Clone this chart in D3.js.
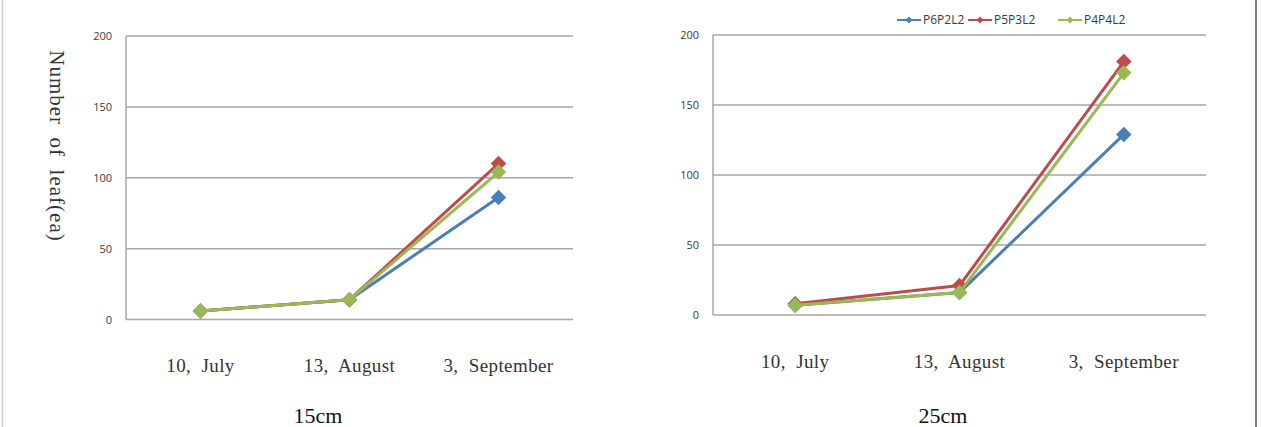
<!DOCTYPE html>
<html>
<head>
<meta charset="utf-8">
<script src="https://cdn.jsdelivr.net/npm/d3@7"></script>
<style>
  html, body { margin: 0; padding: 0; background: #fff; }
  svg { display: block; }
  .tick-label { font-family: "Open Sans", "DejaVu Sans", sans-serif; font-size: 11px; fill: #3a3a3a; }
  .cat-label { font-family: "Liberation Serif", "DejaVu Serif", serif; font-size: 19px; fill: #333; letter-spacing: 0.4px; }
  .sub-title { font-family: "Liberation Serif", "DejaVu Serif", serif; font-size: 22px; fill: #111; }
  .axis-title { font-family: "Liberation Serif", "DejaVu Serif", serif; font-size: 21px; fill: #333; letter-spacing: 1px; }
  .legend-text { font-family: "Open Sans", "DejaVu Sans", sans-serif; font-size: 12px; fill: #3a3a3a; }
</style>
</head>
<body>
<div id="chart"></div>
<script>
// Data
const categories = ["10,  July", "13,  August", "3,  September"];
const seriesNames = ["P6P2L2", "P5P3L2", "P4P4L2"];
const seriesColors = ["#4a7ebb", "#be4b48", "#98b954"];
const yTicks = [0, 50, 100, 150, 200];

// 15cm planting
const p6p2l2_15 = [6, 14, 86];
const p5p3l2_15 = [6, 14, 110];
const p4p4l2_15 = [6, 14, 104];

// 25cm planting
const p6p2l2_25 = [7, 16, 129];
const p5p3l2_25 = [8, 21, 181];
const p4p4l2_25 = [7, 16, 173];

const W = 1261, H = 427;

const svg = d3.select("#chart").append("svg")
  .attr("width", W)
  .attr("height", H);

// outer frame lines
svg.append("line").attr("x1", 2.5).attr("x2", 2.5).attr("y1", 0).attr("y2", H)
  .style("stroke", "#d0d0d0").style("stroke-width", 1.5);
svg.append("line").attr("x1", 1256).attr("x2", 1256).attr("y1", 0).attr("y2", H)
  .style("stroke", "#808080").style("stroke-width", 2);

function drawPanel(opts) {
  const x = d3.scaleBand().domain(categories).range([opts.left, opts.right]);
  const y = d3.scaleLinear().domain([0, 200]).range([opts.bottom, opts.top]);

  const g = svg.append("g");

  // gridlines
  g.selectAll(".grid").data(yTicks).enter().append("line")
    .attr("x1", opts.left).attr("x2", opts.right)
    .attr("y1", d => y(d)).attr("y2", d => y(d))
    .style("stroke", "#a6a6a6").style("stroke-width", 1.5);

  // y axis line
  g.append("line")
    .attr("x1", opts.left).attr("x2", opts.left)
    .attr("y1", y(200)).attr("y2", y(0))
    .style("stroke", "#a6a6a6").style("stroke-width", 1.5);

  // tick labels
  g.selectAll(".tick-label").data(yTicks).enter().append("text")
    .attr("class", "tick-label")
    .attr("x", opts.left - 14)
    .attr("y", d => y(d) + 4)
    .attr("text-anchor", "end")
    .text(d => d);

  // category labels
  g.selectAll(".cat-label").data(categories).enter().append("text")
    .attr("class", "cat-label")
    .attr("x", d => x(d) + x.bandwidth() / 2)
    .attr("y", opts.catY)
    .attr("text-anchor", "middle")
    .style("white-space", "pre")
    .text(d => d);

  // panel subtitle
  g.append("text")
    .attr("class", "sub-title")
    .attr("x", opts.titleX)
    .attr("y", 423)
    .attr("text-anchor", "middle")
    .text(opts.title);

  const line = d3.line()
    .x((d, i) => x(categories[i]) + x.bandwidth() / 2)
    .y(d => y(d));

  // Excel style diamond: a square turned 45 degrees
  const symbol = d3.symbol().type(d3.symbolSquare).size(opts.markerSize);

  opts.series.forEach((vals, si) => {
    g.append("path")
      .datum(vals)
      .attr("d", line)
      .style("fill", "none")
      .style("stroke", seriesColors[si])
      .style("stroke-width", 3)
      .style("stroke-linejoin", "round");

    g.selectAll(".pt" + si).data(vals).enter().append("path")
      .attr("d", symbol)
      .attr("transform", (d, i) => `translate(${x(categories[i]) + x.bandwidth() / 2},${y(d)}) rotate(45)`)
      .style("fill", seriesColors[si]);
  });
}

drawPanel({
  left: 126, right: 573, top: 36, bottom: 319.5, catY: 372,
  title: "15cm", titleX: 318, markerSize: 120,
  series: [p6p2l2_15, p5p3l2_15, p4p4l2_15]
});

drawPanel({
  left: 713, right: 1206, top: 35, bottom: 315, catY: 368,
  title: "25cm", titleX: 943, markerSize: 120,
  series: [p6p2l2_25, p5p3l2_25, p4p4l2_25]
});

// y axis title on the left panel, reading top to bottom
svg.append("text")
  .attr("class", "axis-title")
  .attr("transform", "translate(50,146) rotate(90)")
  .attr("text-anchor", "middle")
  .style("white-space", "pre")
  .text("Number  of  leaf(ea)");

// legend on the right panel
const legend = svg.append("g").attr("transform", "translate(0,20)");
const legendX = [897, 968, 1058];
seriesNames.forEach((name, i) => {
  const item = legend.append("g").attr("transform", `translate(${legendX[i]},0)`);
  item.append("line")
    .attr("x1", 0).attr("x2", 24).attr("y1", 0).attr("y2", 0)
    .style("stroke", seriesColors[i]).style("stroke-width", 2);
  item.append("path")
    .attr("d", d3.symbol().type(d3.symbolSquare).size(24))
    .attr("transform", "translate(12,0) rotate(45)")
    .style("fill", seriesColors[i]);
  item.append("text")
    .attr("class", "legend-text")
    .attr("x", 26)
    .attr("y", 4)
    .text(name);
});
</script>
</body>
</html>
